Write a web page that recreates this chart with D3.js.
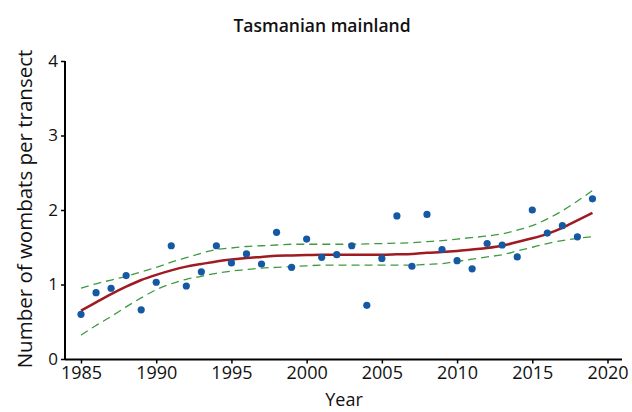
<!DOCTYPE html>
<html>
<head>
<meta charset="utf-8">
<script src="https://cdn.jsdelivr.net/npm/d3@7"></script>
<style>
  html, body { margin: 0; padding: 0; background: #fff; }
  svg { display: block; }
  text { font-family: "Open Sans", "Noto Sans", sans-serif; fill: #111; }
</style>
</head>
<body>
<svg id="chart" width="632" height="412"></svg>
<script>
// ---- data ----
const years = d3.range(1985, 2020);
const observed = [0.60, 0.89, 0.95, 1.12, 0.66, 1.03, 1.52, 0.98, 1.17, 1.52,
                  1.29, 1.41, 1.275, 1.70, 1.23, 1.61, 1.365, 1.40, 1.52, 0.72,
                  1.35, 1.92, 1.245, 1.94, 1.47, 1.32, 1.21, 1.55, 1.53, 1.37,
                  2.00, 1.69, 1.79, 1.64, 2.15];
const fitted = [0.65, 0.76, 0.87, 0.97, 1.06, 1.13, 1.19, 1.24, 1.275, 1.31,
                1.335, 1.355, 1.37, 1.385, 1.39, 1.395, 1.40, 1.40, 1.40, 1.40,
                1.40, 1.405, 1.41, 1.425, 1.435, 1.45, 1.47, 1.49, 1.52, 1.57,
                1.62, 1.68, 1.76, 1.86, 1.96];
const upperCI = [0.95, 1.01, 1.06, 1.11, 1.17, 1.23, 1.30, 1.36, 1.42, 1.47,
                 1.49, 1.51, 1.52, 1.53, 1.54, 1.54, 1.54, 1.54, 1.54, 1.545,
                 1.55, 1.555, 1.56, 1.575, 1.59, 1.61, 1.63, 1.65, 1.68, 1.73,
                 1.79, 1.88, 1.99, 2.12, 2.26];
const lowerCI = [0.32, 0.45, 0.57, 0.70, 0.82, 0.93, 1.01, 1.07, 1.11, 1.15,
                 1.18, 1.20, 1.22, 1.23, 1.24, 1.25, 1.26, 1.26, 1.26, 1.26,
                 1.26, 1.26, 1.26, 1.27, 1.28, 1.31, 1.34, 1.37, 1.40, 1.45,
                 1.50, 1.55, 1.59, 1.62, 1.64];
const xTicks = [1985, 1990, 1995, 2000, 2005, 2010, 2015, 2020];
const yTicks = [0, 1, 2, 3, 4];
const title = "Tasmanian mainland";
const xLabel = "Year";
const yLabel = "Number of wombats per transect";

// ---- layout ----
const svg = d3.select("#chart");
const axisLeftX = 65, axisRightX = 622, axisBottomY = 359.5;
const x = d3.scaleLinear().domain([1985, 2020]).range([81, 607.5]);
const y = d3.scaleLinear().domain([0, 4]).range([359, 61]);

// title
svg.append("text").attr("x", 322).attr("y", 32)
  .attr("text-anchor", "middle").attr("font-size", 17.5).attr("font-weight", 600)
  .text(title);

// axes
const xAxis = svg.append("g").attr("transform", `translate(0,${axisBottomY})`)
  .call(d3.axisBottom(x).tickValues(xTicks).tickFormat(d3.format("d")).tickSize(4).tickPadding(3));
xAxis.select(".domain").remove();
xAxis.selectAll(".tick text").attr("font-size", 18);
svg.append("line").attr("x1", axisLeftX).attr("x2", axisRightX)
  .attr("y1", axisBottomY).attr("y2", axisBottomY)
  .attr("stroke", "#000").attr("stroke-width", 2);

const yAxis = svg.append("g").attr("transform", `translate(${axisLeftX},0)`)
  .call(d3.axisLeft(y).tickValues(yTicks).tickFormat(d3.format("d")).tickSize(4).tickPadding(3));
yAxis.select(".domain").remove();
yAxis.selectAll(".tick text").attr("font-size", 17);
svg.append("line").attr("x1", axisLeftX).attr("x2", axisLeftX)
  .attr("y1", y(4)).attr("y2", axisBottomY)
  .attr("stroke", "#000").attr("stroke-width", 2);

svg.selectAll(".tick line").attr("stroke", "#000").attr("stroke-width", 1.5);
svg.selectAll(".tick text").attr("fill", "#111")
  .attr("font-family", '"Open Sans", "Noto Sans", sans-serif');

// axis labels
svg.append("text").attr("x", 344).attr("y", 406)
  .attr("text-anchor", "middle").attr("font-size", 18).text(xLabel);
svg.append("text")
  .attr("transform", `translate(32,209) rotate(-90)`)
  .attr("text-anchor", "middle").attr("font-size", 20.5).text(yLabel);

// lines
const line = d3.line().x((d, i) => x(years[i])).y(d => y(d)).curve(d3.curveMonotoneX);
svg.append("path").attr("d", line(upperCI)).attr("fill", "none")
  .attr("stroke", "#3f9a3f").attr("stroke-width", 1.3).attr("stroke-dasharray", "8,5");
svg.append("path").attr("d", line(lowerCI)).attr("fill", "none")
  .attr("stroke", "#3f9a3f").attr("stroke-width", 1.3).attr("stroke-dasharray", "8,5");
svg.append("path").attr("d", line(fitted)).attr("fill", "none")
  .attr("stroke", "#9e1b22").attr("stroke-width", 2.5);

// points
svg.append("g").selectAll("circle").data(observed).join("circle")
  .attr("cx", (d, i) => x(years[i])).attr("cy", d => y(d)).attr("r", 3.6)
  .attr("fill", "#1558a3");
</script>
</body>
</html>
